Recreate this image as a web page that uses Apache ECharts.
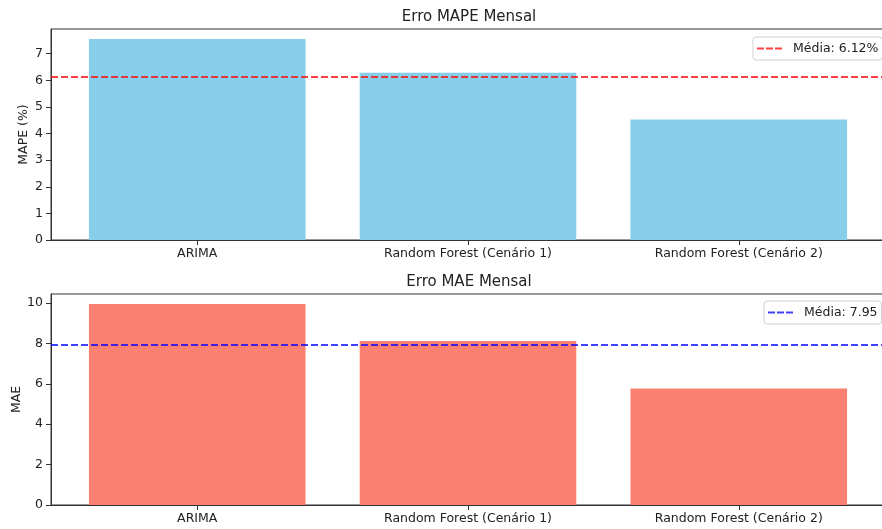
<!DOCTYPE html>
<html>
<head>
<meta charset="utf-8">
<script src="https://cdn.jsdelivr.net/npm/echarts@6/dist/echarts.min.js"></script>
<style>
  html, body { margin: 0; padding: 0; background: #fff; }
  #chart { width: 882px; height: 529px; }
</style>
</head>
<body>
<div id="chart"></div>
<script>
// ---- data ----
const categories = ['ARIMA', 'Random Forest (Cenário 1)', 'Random Forest (Cenário 2)'];
const mapeValues = [7.55, 6.28, 4.53];
const maeValues = [9.95, 8.12, 5.77];
const mapeMean = 6.12;
const maeMean = 7.95;
const mapeTicks = [0, 1, 2, 3, 4, 5, 6, 7];
const maeTicks = [0, 2, 4, 6, 8, 10];
const catPositions = [0, 1, 2];

// ---- layout ----
const FONT = 'DejaVu Sans';
const gridLeft = 51, gridWidth = 834, gridHeight = 211;
const xMin = -0.54, xMax = 2.54;
const barW = 0.8 / (xMax - xMin) * gridWidth;
const dashIcon = 'path://M0,0h7v2h-7z M9,0h7v2h-7z M18,0h7v2h-7z';

function xAxisCfg(gridIndex) {
  return {
    type: 'value', gridIndex, min: xMin, max: xMax,
    splitLine: { show: false },
    axisLine: { show: true, onZero: false, lineStyle: { color: '#333', width: 1 } },
    axisTick: { show: true, length: 5, lineStyle: { color: '#333' }, customValues: catPositions },
    axisLabel: { customValues: catPositions, margin: 7, color: '#222', fontFamily: FONT, fontSize: 12.5,
                 formatter: v => categories[Math.round(v)] }
  };
}
function yAxisCfg(gridIndex, name, ticks, maxV, nameGap) {
  return {
    type: 'value', gridIndex, min: 0, max: maxV,
    name, nameLocation: 'middle', nameGap, nameMoveOverlap: false,
    nameTextStyle: { color: '#222', fontFamily: FONT, fontSize: 12.5 },
    splitLine: { show: false },
    axisLine: { show: true, onZero: false, lineStyle: { color: '#333', width: 1 } },
    axisTick: { show: true, length: 5, lineStyle: { color: '#333' }, customValues: ticks },
    axisLabel: { customValues: ticks, margin: 8, color: '#222', fontFamily: FONT, fontSize: 12.5 }
  };
}
function legendCfg(name, left, top) {
  return {
    data: [{ name, icon: dashIcon }],
    left, top, orient: 'vertical',
    itemWidth: 25, itemHeight: 2,
    padding: [5, 4, 5, 4],
    borderColor: '#d0d0d0', borderWidth: 1, borderRadius: 3,
    backgroundColor: 'rgba(255,255,255,0.8)',
    textStyle: { color: '#222', fontFamily: FONT, fontSize: 12.5, padding: [0, 0, 0, 6] }
  };
}

const mapeName = 'Média: ' + mapeMean.toFixed(2) + '%';
const maeName = 'Média: ' + maeMean.toFixed(2);
const redLine = 'rgba(255,0,0,0.75)';
const blueLine = 'rgba(0,0,255,0.75)';

const option = {
  animation: false,
  backgroundColor: '#fff',
  textStyle: { fontFamily: FONT },
  title: [
    { text: 'Erro MAPE Mensal', left: 469, top: 10, padding: 0, textAlign: 'center',
      textStyle: { fontFamily: FONT, fontSize: 15, fontWeight: 'normal', color: '#222' } },
    { text: 'Erro MAE Mensal', left: 469, top: 275, padding: 0, textAlign: 'center',
      textStyle: { fontFamily: FONT, fontSize: 15, fontWeight: 'normal', color: '#222' } }
  ],
  grid: [
    { left: gridLeft, top: 29, width: gridWidth, height: gridHeight, show: true, borderColor: '#333', borderWidth: 1,
      backgroundColor: 'transparent', outerBoundsMode: 'none', containLabel: false },
    { left: gridLeft, top: 294, width: gridWidth, height: gridHeight, show: true, borderColor: '#333', borderWidth: 1,
      backgroundColor: 'transparent', outerBoundsMode: 'none', containLabel: false }
  ],
  legend: [
    legendCfg(mapeName, 753, 37),
    legendCfg(maeName, 764, 301)
  ],
  xAxis: [xAxisCfg(0), xAxisCfg(1)],
  yAxis: [
    yAxisCfg(0, 'MAPE (%)', mapeTicks, Math.max(...mapeValues) * 1.05, 21),
    yAxisCfg(1, 'MAE', maeTicks, Math.max(...maeValues) * 1.05, 28)
  ],
  series: [
    {
      type: 'bar', xAxisIndex: 0, yAxisIndex: 0, barWidth: barW,
      itemStyle: { color: '#87CEEB' },
      data: catPositions.map((p, i) => [p, mapeValues[i]]),
      markLine: {
        silent: true, symbol: 'none', label: { show: false }, z: 10,
        lineStyle: { color: redLine, width: 2, type: [7, 3] },
        data: [{ yAxis: mapeMean }]
      }
    },
    {
      name: mapeName, type: 'line', xAxisIndex: 0, yAxisIndex: 0, data: [],
      lineStyle: { color: redLine, width: 2, type: [7, 3] }, itemStyle: { color: redLine }
    },
    {
      type: 'bar', xAxisIndex: 1, yAxisIndex: 1, barWidth: barW,
      itemStyle: { color: '#FA8072' },
      data: catPositions.map((p, i) => [p, maeValues[i]]),
      markLine: {
        silent: true, symbol: 'none', label: { show: false }, z: 10,
        lineStyle: { color: blueLine, width: 2, type: [7, 3] },
        data: [{ yAxis: maeMean }]
      }
    },
    {
      name: maeName, type: 'line', xAxisIndex: 1, yAxisIndex: 1, data: [],
      lineStyle: { color: blueLine, width: 2, type: [7, 3] }, itemStyle: { color: blueLine }
    }
  ]
};

const chart = echarts.init(document.getElementById('chart'), null, { renderer: 'canvas' });
chart.setOption(option);
</script>
</body>
</html>
